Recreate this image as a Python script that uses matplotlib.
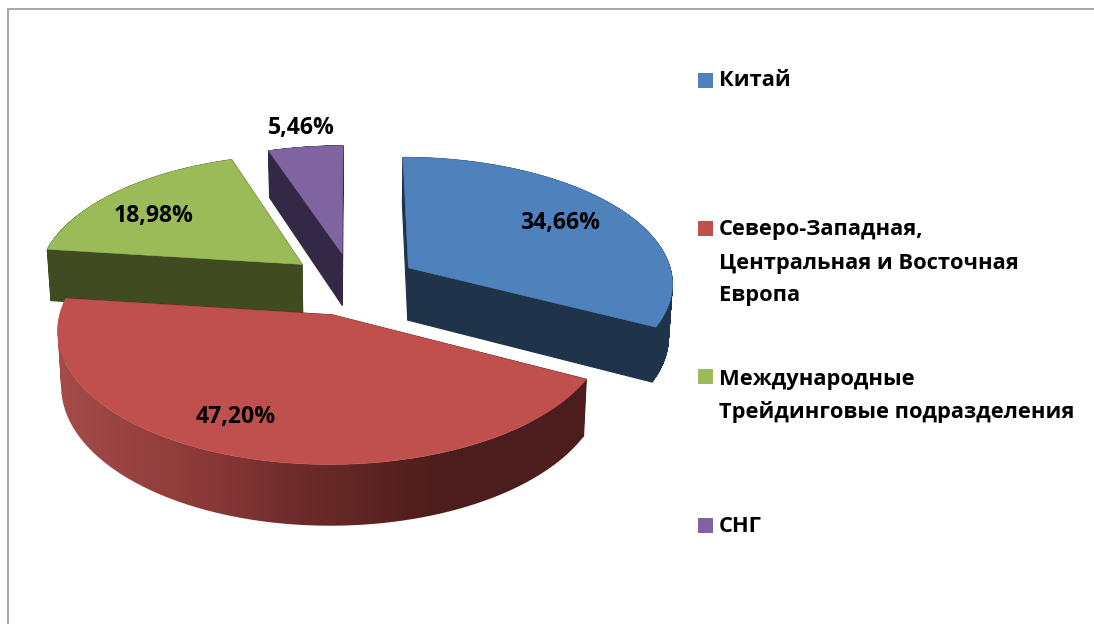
import numpy as np
import matplotlib
matplotlib.use("Agg")
import matplotlib.pyplot as plt
from matplotlib.patches import Polygon, Rectangle, PathPatch
from matplotlib.path import Path
from matplotlib.colors import to_rgb

categories = ["Китай", "Северо-Западная,\nЦентральная и Восточная\nЕвропа",
              "Международные\nТрейдинговые подразделения", "СНГ"]
values = [34.66, 47.20, 18.98, 5.46]
value_labels = ["34,66%", "47,20%", "18,98%", "5,46%"]

top_colors = ["#4F81BD", "#C0504D", "#9BBB59", "#8064A2"]
side_colors = ["#1F334B", None, "#404B21", "#332845"]
label_pos = [(560, 223), (236, 417), (154, 216), (301, 128)]
legend_y = [(73, 81), (221, 230), (369, 379), (518, 527)]
LINE_H = 33

plt.rcParams['font.family'] = ['Open Sans', 'Noto Sans', 'DejaVu Sans']
LABEL_FONT = 16.6
LEGEND_FONT = 15.76

CX, CY, A, B, K, EXPLODE, DEPTH, XBOT = 352.5, 284, 265.5, 126, 0.109, 0.25, 53, 0.988

grad_x = [60, 208, 296, 383, 436]
grad_c = np.array([to_rgb(c) for c in ["#A54B48", "#8A3938", "#6E2C2C", "#5A2321", "#4C1D1C"]])

fig = plt.figure(figsize=(10.94, 6.24), dpi=100, facecolor="white")
ax = fig.add_axes([0, 0, 1, 1])
ax.set_xlim(0, 1094)
ax.set_ylim(624, 0)
ax.axis("off")


def project(X, Y, low=False):
    w = 1 + K * Y
    x = A * X / w
    y = -B * Y / w
    if low:
        x = x * XBOT
        y = y + DEPTH / w
    return CX + x, CY + y


v = np.asarray(values, float)
edges = np.concatenate([[0], np.cumsum(v) / v.sum() * 2 * np.pi])


def slice_geom(i):
    t0, t1 = edges[i], edges[i + 1]
    mid = (t0 + t1) / 2
    ax0, ay0 = EXPLODE * np.sin(mid), EXPLODE * np.cos(mid)
    th = np.linspace(t0, t1, 240)
    return ax0, ay0, ax0 + np.sin(th), ay0 + np.cos(th)


def quad(xa, ya, color, z, lw=0.4):
    p = Polygon(np.column_stack([xa, ya]), closed=True, facecolor=color,
                edgecolor=color, linewidth=lw, zorder=z)
    ax.add_patch(p)
    return p


def wall_path(tx, ty, bx, by):
    """Union of the rim strips, every strip wound the same way."""
    verts, codes = [], []
    for j in range(len(tx) - 1):
        q = np.array([[tx[j], ty[j]], [tx[j + 1], ty[j + 1]],
                      [bx[j + 1], by[j + 1]], [bx[j], by[j]]])
        x, y = q[:, 0], q[:, 1]
        if np.dot(x, np.roll(y, -1)) - np.dot(y, np.roll(x, -1)) < 0:
            q = q[::-1]
        verts.extend(q.tolist() + [q[0].tolist()])
        codes.extend([Path.MOVETO, Path.LINETO, Path.LINETO, Path.LINETO, Path.CLOSEPOLY])
    return Path(verts, codes)


order = [3, 0, 2, 1]
for rank, i in enumerate(order):
    z = 2 + rank * 3
    ax0, ay0, rx, ry = slice_geom(i)
    tx, ty = project(rx, ry)
    bx, by = project(rx, ry, low=True)
    apx, apy = project(ax0, ay0)
    abx, aby = project(ax0, ay0, low=True)
    side = side_colors[i]
    cut = side if side else "#4C1D1C"
    for j in (0, -1):
        quad([apx, tx[j], bx[j], abx], [apy, ty[j], by[j], aby], cut, z, lw=0.8)
    wall = wall_path(tx, ty, bx, by)
    if side:
        ax.add_patch(PathPatch(wall, facecolor=side, edgecolor=side, linewidth=0.5, zorder=z + 1))
    else:
        clip = PathPatch(wall, facecolor="none", edgecolor="none", transform=ax.transData)
        ax.add_patch(clip)
        xs = np.arange(np.floor(min(tx.min(), bx.min())), np.ceil(max(tx.max(), bx.max())) + 1)
        rgb = np.stack([np.interp(xs, grad_x, grad_c[:, c]) for c in range(3)], axis=-1)[None, :, :]
        im = ax.imshow(rgb, extent=[xs[0], xs[-1], by.max() + 2, ty.min() - 2],
                       aspect="auto", zorder=z + 1, interpolation="bilinear")
        im.set_clip_path(clip)
        ax.set_xlim(0, 1094)
        ax.set_ylim(624, 0)
    quad(np.r_[apx, tx], np.r_[apy, ty], top_colors[i], z + 2)

for (x, y), s in zip(label_pos, value_labels):
    ax.text(x, y, s, ha="center", va="center", fontsize=LABEL_FONT, fontweight="bold",
            color="black", zorder=30)

for cat, color, (sq_y, txt_y) in zip(categories, top_colors, legend_y):
    ax.add_patch(Rectangle((698, sq_y), 15, 15, facecolor=color, edgecolor="none", zorder=30))
    for n, line in enumerate(cat.split("\n")):
        ax.text(719, txt_y + n * LINE_H, line, ha="left", va="center", fontsize=LEGEND_FONT,
                fontweight="bold", color="black", zorder=30)

ax.plot([8, 8, 1094], [624, 9, 9], color="#A0A0A0", linewidth=1.3, zorder=1,
        solid_joinstyle="miter")

fig.savefig("out.png", dpi=100, facecolor="white")
